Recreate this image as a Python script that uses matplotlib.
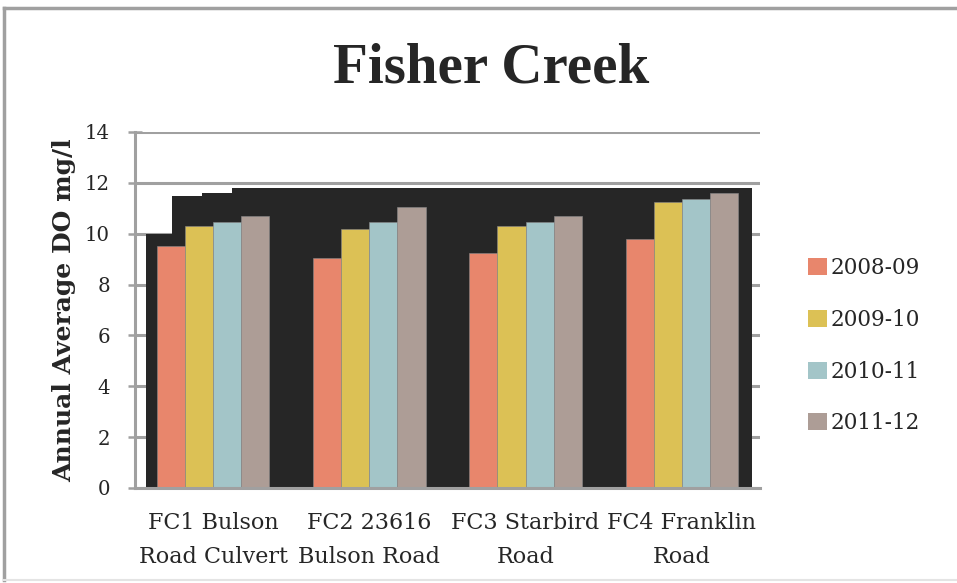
import numpy as np
import matplotlib.pyplot as plt
from matplotlib.lines import Line2D
from matplotlib.patches import Patch

sites = ["FC1 Bulson\nRoad Culvert", "FC2 23616\nBulson Road",
         "FC3 Starbird\nRoad", "FC4 Franklin\nRoad"]
seasons = ["2008-09", "2009-10", "2010-11", "2011-12"]
do_2008 = [9.5, 9.05, 9.25, 9.8]
do_2009 = [10.3, 10.2, 10.3, 11.25]
do_2010 = [10.45, 10.45, 10.45, 11.35]
do_2011 = [10.7, 11.05, 10.7, 11.6]

# dark back wall behind the bars (stepped top)
wall_x = [-0.43, -0.265, -0.07, 0.12, 3.45]
wall_top = [10.0, 11.5, 11.6, 11.8, 11.8]

colors = ["#E8866C", "#DCC155", "#A3C5C8", "#AD9D96"]
ink = "#262626"
plt.rcParams['font.family'] = ["DejaVu Serif"]

fig = plt.figure(figsize=(9.57, 5.83), dpi=100)
ax = fig.add_axes([0.1411, 0.163, 0.653, 0.6106])

# outer frame: top and left edges, faint bottom
fig.lines.append(Line2D([0.004, 1.0], [0.986, 0.986], transform=fig.transFigure,
                        color="#A0A0A0", linewidth=2.5))
fig.lines.append(Line2D([0.004, 0.004], [0.006, 0.986], transform=fig.transFigure,
                        color="#A0A0A0", linewidth=2.5))
fig.lines.append(Line2D([0.004, 1.0], [0.006, 0.006], transform=fig.transFigure,
                        color="#E4E4E4", linewidth=1.5))

ax.fill_between(wall_x, 0, wall_top, step="post", color=ink, zorder=1, linewidth=0)

x = np.arange(len(sites))
w = 0.18
series = [do_2008, do_2009, do_2010, do_2011]
for i, vals in enumerate(series):
    ax.bar(x + (i - 1.5) * w, vals, width=w, color=colors[i], edgecolor="#8a8a8a",
           linewidth=0.4, zorder=2)

ax.set_xlim(-0.5, 3.5)
ax.set_ylim(0, 14)
ax.set_yticks(np.arange(0, 15, 2))
ax.set_yticklabels([str(v) for v in range(0, 15, 2)], fontsize=14.2, color=ink)
ax.set_xticks(x)
ax.set_xticklabels(sites, fontsize=16, color=ink, linespacing=1.75)
ax.tick_params(axis="x", length=0, pad=17)
ax.tick_params(axis="y", length=10, width=1.8, color="#A0A0A0", direction="inout", pad=13)
ax.grid(axis="y", color="#A0A0A0", linewidth=2.2, zorder=0)
ax.set_axisbelow(True)
for s in ["top", "right"]:
    ax.spines[s].set_visible(False)
ax.spines["left"].set_color("#A0A0A0")
ax.spines["left"].set_linewidth(2.2)
ax.spines["bottom"].set_color("#A0A0A0")
ax.spines["bottom"].set_linewidth(2.2)

ax.set_ylabel("Annual Average DO mg/l", fontsize=18, fontweight="bold", color=ink,
              labelpad=6)

fig.text(0.513, 0.882, "Fisher Creek", ha="center", va="center", fontsize=41,
         fontweight="bold", color=ink, family="Liberation Serif")

handles = [Patch(facecolor=c, edgecolor="none") for c in colors]
fig.legend(handles, seasons, loc="upper left", bbox_to_anchor=(0.8245, 0.592),
           frameon=False, fontsize=15.5, handlelength=0.85, handleheight=0.85,
           handletextpad=0.2, labelspacing=1.38, labelcolor=ink)

fig.savefig("out.png", dpi=100)
